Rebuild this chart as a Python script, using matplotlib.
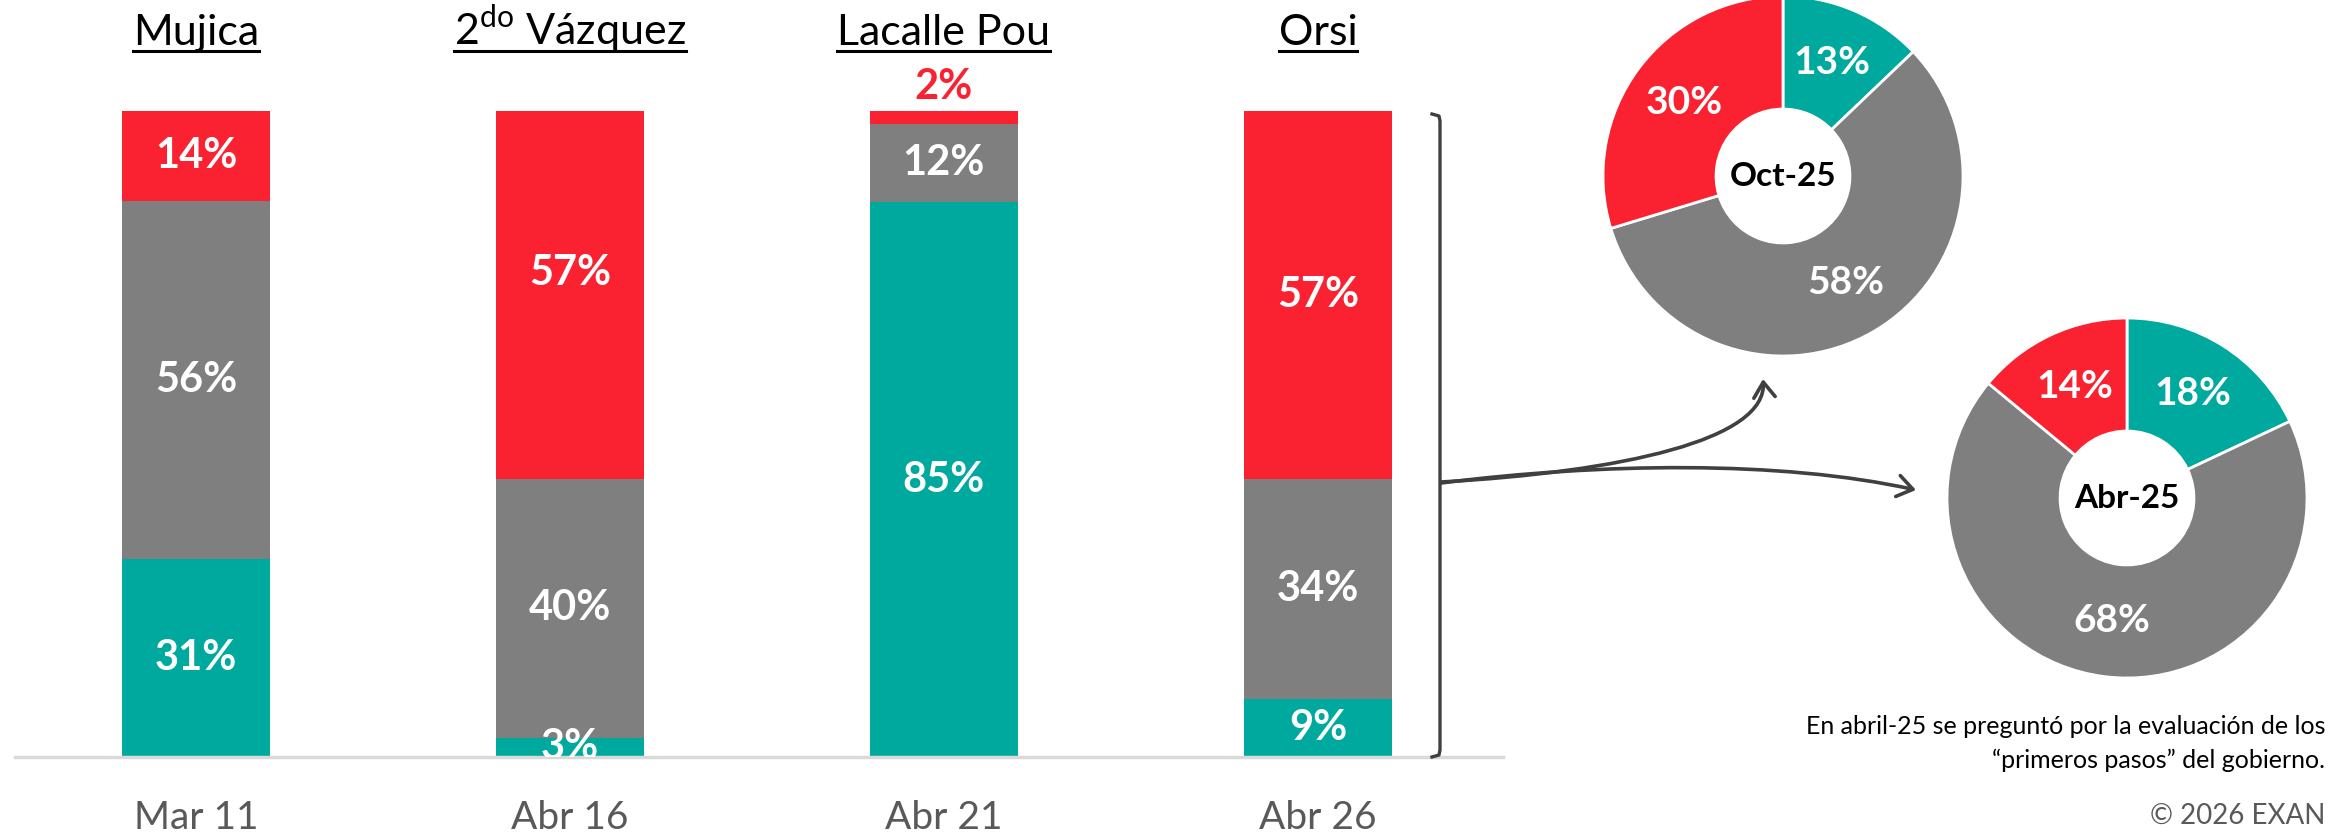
import matplotlib
matplotlib.use("Agg")
import matplotlib.pyplot as plt
import numpy as np
from matplotlib.lines import Line2D
from matplotlib.patches import FancyArrowPatch
from matplotlib.path import Path

plt.rcParams['font.family'] = ['Lato', 'DejaVu Sans']
plt.rcParams['mathtext.fontset'] = 'custom'
plt.rcParams['mathtext.rm'] = 'Lato'
plt.rcParams['mathtext.bf'] = 'Lato:bold'

# --- Data ---
presidents = ["Mujica", "2$^{\\mathrm{do}}$ Vázquez", "Lacalle Pou", "Orsi"]
dates = ["Mar 11", "Abr 16", "Abr 21", "Abr 26"]
aprueba = [31, 3, 85, 9]
ni_ni = [56, 40, 12, 34]
desaprueba = [14, 57, 2, 57]

donut_oct25 = [13, 58, 30]   # aprueba, ni-ni, desaprueba
donut_abr25 = [18, 68, 14]

note = ["En abril-25 se preguntó por la evaluación de los",
        "“primeros pasos” del gobierno."]

TEAL, GRAY, RED = "#00A99D", "#7F7F7F", "#FA2231"
DARK = "#404040"

W, H = 2328, 832
fig = plt.figure(figsize=(W / 100, H / 100), dpi=100)


def rect(x0, ytop, w, h):
    return [x0 / W, 1 - (ytop + h) / H, w / W, h / H]


def fp(xp, ytop):
    return (xp / W, 1 - ytop / H)


# --- Stacked bars ---
ax = fig.add_axes(rect(15, 111, 1488, 646))
x = np.arange(len(dates))
tot = np.array(aprueba) + np.array(ni_ni) + np.array(desaprueba)
series = [aprueba, ni_ni, desaprueba]
colors = [TEAL, GRAY, RED]
nudge = {(2, 1): 3.4}   # Vázquez 57% label sits a bit higher

bottom = np.zeros(len(x))
for k, (vals, col) in enumerate(zip(series, colors)):
    share = 100 * np.array(vals) / tot
    ax.bar(x, share, bottom=bottom, width=0.396, color=col, zorder=2)
    for i in range(len(x)):
        if k == len(series) - 1 and share[i] < 5:
            # tiny top segment: label above the bar
            ax.text(x[i], bottom[i] + share[i] + 3.7, f"{vals[i]}%", ha='center', va='center',
                    color=RED, fontsize=30, fontweight='bold', clip_on=False)
        else:
            y = bottom[i] + share[i] / 2 + nudge.get((k, i), 0)
            ax.text(x[i], y, f"{vals[i]}%", ha='center', va='center',
                    color='white', fontsize=30, fontweight='bold', clip_on=True, zorder=3)
    bottom += share

ax.set_xlim(-0.484, 3.495)
ax.set_ylim(0, 100)
for s in ['top', 'left', 'right']:
    ax.spines[s].set_visible(False)
ax.spines['bottom'].set_color('#D9D9D9')
ax.spines['bottom'].set_linewidth(2.5)
ax.set_yticks([])
ax.set_xticks(x, dates)
ax.tick_params(axis='x', length=0, pad=31, labelsize=28, labelcolor='#595959')

headers = []
for i, name in enumerate(presidents):
    headers.append(ax.text(x[i], 110.2, name, ha='center', va='baseline',
                           fontsize=31, color='black', clip_on=False))

# underline the headers
fig.canvas.draw()
renderer = fig.canvas.get_renderer()
inv = fig.transFigure.inverted()
for t in headers:
    bb = t.get_window_extent(renderer)
    (x0, _), (x1, _) = inv.transform([(bb.x0, 0), (bb.x1, 0)])
    yline = fp(0, 51)[1]
    fig.add_artist(Line2D([x0, x1], [yline, yline], color='black', lw=2.2))

# --- Bracket ---
bx = [1432, 1439, 1440, 1440, 1439, 1432]
by = [114, 116, 121, 750, 755, 757]
pts = [fp(a, b) for a, b in zip(bx, by)]
fig.add_artist(Line2D([p[0] for p in pts], [p[1] for p in pts], color=DARK, lw=2.4,
                      solid_joinstyle='round'))

# --- Arrows ---
def curve_arrow(p0, p1, p2, p3):
    verts = [fp(*p0), fp(*p1), fp(*p2), fp(*p3)]
    path = Path(verts, [Path.MOVETO, Path.CURVE4, Path.CURVE4, Path.CURVE4])
    arr = FancyArrowPatch(path=path, arrowstyle='->,head_length=0.5,head_width=0.35',
                          mutation_scale=22, color=DARK, lw=2.6, transform=fig.transFigure)
    fig.add_artist(arr)


curve_arrow((1441, 482), (1620, 472), (1768, 440), (1763, 379))
curve_arrow((1441, 483), (1600, 463), (1780, 460), (1916, 490))


# --- Donuts ---
def donut(r, vals, label):
    a = fig.add_axes(r)
    hole = 0.372
    wedges, _ = a.pie(vals, colors=[TEAL, GRAY, RED], startangle=90, counterclock=False,
                      radius=1, wedgeprops=dict(width=1 - hole, edgecolor='white', linewidth=2))
    rm = (1 + hole) / 2
    for w, v in zip(wedges, vals):
        th = np.deg2rad((w.theta1 + w.theta2) / 2)
        a.text(rm * np.cos(th), rm * np.sin(th), f"{v}%", ha='center', va='center',
               color='white', fontsize=28, fontweight='bold')
    a.text(0, 0, label, ha='center', va='center', color='black', fontsize=24, fontweight='bold')
    a.set_xlim(-1, 1)
    a.set_ylim(-1, 1)
    a.set_aspect('equal')
    a.axis('off')


donut(rect(1603, -4, 360, 360), donut_oct25, "Oct-25")
donut(rect(1947, 318, 360, 360), donut_abr25, "Abr-25")

# --- Notes ---
fig.text(*fp(2325, 727), note[0], ha='right', va='center', fontsize=18, color='black')
fig.text(*fp(2325, 760), note[1], ha='right', va='center', fontsize=18, color='black')
fig.text(*fp(2325, 829), "© 2026 EXAN", ha='right', va='bottom', fontsize=20, color='#595959')

fig.savefig("out.png", dpi=100)
